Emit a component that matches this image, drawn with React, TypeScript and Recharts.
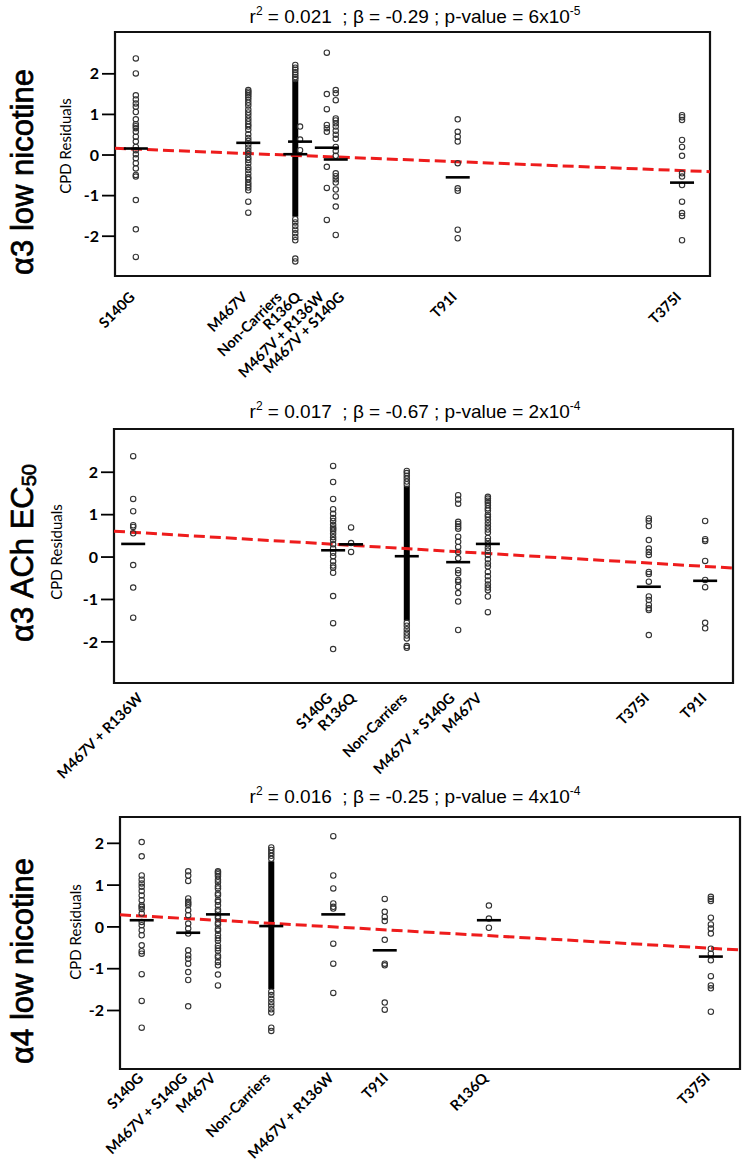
import React from 'react';
import { ScatterChart, Scatter, XAxis, YAxis, ReferenceLine, ReferenceArea } from 'recharts';

const W = 747;

// ---- panel 1: a3 low nicotine
const P1_GROUPS = ['S140G', 'M467V', 'Non-Carriers', 'R136Q', 'M467V + R136W', 'M467V + S140G', 'T91I', 'T375I'];
const P1_X = [3.5, 22.4, 30.3, 31.1, 35.6, 37.1, 57.6, 95.3];
const P1_LABEL_X = [3.5, 22.4, 28.2, 31.4, 35.3, 38.7, 57.6, 95.3];
const P1_MEANS = [0.16, 0.3, 0.02, 0.33, 0.18, -0.11, -0.55, -0.68];
const P1_VALUES = [
  [2.38, 2.01, 1.47, 1.37, 1.27, 1.19, 1.06, 0.88, 0.76, 0.71, 0.66, 0.57, 0.45, 0.33, 0.2, 0.12, 0.02, -0.08, -0.2, -0.33, -0.49, -0.53, -1.11, -1.83, -2.51],
  [1.6, 1.56, 1.52, 1.47, 1.42, 1.36, 1.29, 1.22, 1.12, 1.05, 0.98, 0.9, 0.83, 0.76, 0.7, 0.62, 0.51, 0.42, 0.35, 0.26, 0.18, 0.1, 0.03, -0.06, -0.12, -0.2, -0.3, -0.37, -0.46, -0.55, -0.6, -0.68, -0.74, -0.8, -0.87, -1.15, -1.42],
  [2.22, 2.15, 2.1, 2.04, 1.98, 1.92, 1.87, -1.58, -1.66, -1.75, -1.84, -1.93, -2.02, -2.1, -2.55, -2.62],
  [0.7, 0.38, 0.12],
  [2.52, 1.5, 1.13, 0.74, 0.66, 0.57, -0.29, -0.81, -1.6],
  [1.6, 1.52, 1.35, 0.9, 0.85, 0.78, 0.7, 0.6, 0.5, 0.4, 0.2, 0.1, -0.02, -0.45, -0.52, -0.6, -0.68, -0.85, -1.02, -1.27, -1.97],
  [0.88, 0.57, 0.45, 0.33, -0.2, -0.82, -0.88, -1.84, -2.05],
  [0.98, 0.93, 0.86, 0.37, 0.2, -0.02, -0.45, -0.53, -0.74, -1.15, -1.43, -1.5, -2.1],
];
const P1_DENSE = [-1.52, 1.84]; // Non-Carriers: too many points to tell apart
const P1_FIT = [0.165, -0.41];

// ---- panel 2: a3 ACh EC50
const P2_GROUPS = ['M467V + R136W', 'S140G', 'R136Q', 'Non-Carriers', 'M467V + S140G', 'M467V', 'T375I', 'T91I'];
const P2_X = [3.1, 35.4, 38.3, 47.3, 55.6, 60.4, 86.4, 95.5];
const P2_LABEL_X = [4.8, 35.4, 39.2, 47.5, 55.2, 59.6, 86.6, 95.9];
const P2_MEANS = [0.31, 0.16, 0.3, 0.02, -0.12, 0.31, -0.7, -0.56];
const P2_VALUES = [
  [2.38, 1.37, 1.08, 0.75, 0.71, 0.56, -0.19, -0.72, -1.43],
  [2.15, 1.77, 1.37, 1.13, 1.02, 0.92, 0.85, 0.76, 0.7, 0.66, 0.62, 0.55, 0.47, 0.4, 0.3, 0.2, 0.1, 0.02, -0.1, -0.2, -0.25, -0.37, -0.92, -1.56, -2.17],
  [0.7, 0.33, 0.12],
  [2.03, 1.98, 1.92, 1.85, 1.78, 1.72, -1.55, -1.62, -1.7, -1.78, -1.85, -1.92, -2.1, -2.14],
  [1.46, 1.36, 1.26, 0.83, 0.78, 0.72, 0.67, 0.48, 0.36, 0.24, 0.12, -0.03, -0.31, -0.38, -0.54, -0.58, -0.7, -0.85, -1.05, -1.72],
  [1.42, 1.38, 1.33, 1.28, 1.22, 1.15, 1.1, 1.0, 0.95, 0.88, 0.8, 0.72, 0.65, 0.58, 0.45, 0.38, 0.3, 0.22, 0.15, 0.05, -0.05, -0.15, -0.22, -0.35, -0.45, -0.55, -0.65, -0.72, -0.78, -0.93, -1.3],
  [0.91, 0.85, 0.73, 0.4, 0.2, 0.12, 0.05, -0.35, -0.4, -0.58, -0.93, -1.01, -1.13, -1.21, -1.25, -1.84],
  [0.85, 0.42, 0.38, -0.09, -0.54, -0.71, -1.55, -1.68],
];
const P2_DENSE = [-1.5, 1.68];
const P2_FIT = [0.61, -0.26];

// ---- panel 3: a4 low nicotine
const P3_GROUPS = ['S140G', 'M467V + S140G', 'M467V', 'Non-Carriers', 'M467V + R136W', 'T91I', 'R136Q', 'T375I'];
const P3_X = [3.5, 11.0, 15.8, 24.4, 34.4, 42.7, 59.5, 95.3];
const P3_LABEL_X = [3.9, 11.0, 15.6, 24.4, 34.6, 43.4, 59.5, 95.3];
const P3_MEANS = [0.16, -0.14, 0.3, 0.02, 0.3, -0.56, 0.16, -0.71];
const P3_VALUES = [
  [2.03, 1.69, 1.23, 1.13, 1.04, 0.96, 0.86, 0.75, 0.64, 0.52, 0.48, 0.43, 0.32, 0.12, 0.04, -0.08, -0.2, -0.44, -0.58, -0.64, -1.13, -1.77, -2.41],
  [1.33, 1.23, 1.1, 0.68, 0.6, 0.56, 0.52, 0.4, 0.28, 0.08, -0.04, -0.16, -0.56, -0.68, -0.76, -0.88, -1.08, -1.27, -1.9],
  [1.33, 1.3, 1.26, 1.21, 1.13, 1.07, 0.97, 0.92, 0.8, 0.76, 0.64, 0.6, 0.52, 0.41, 0.37, 0.25, 0.21, 0.1, 0.06, -0.05, -0.09, -0.2, -0.27, -0.33, -0.45, -0.51, -0.57, -0.69, -0.73, -0.84, -0.92, -1.14, -1.4],
  [1.9, 1.84, 1.77, 1.7, 1.63, -1.55, -1.63, -1.72, -1.8, -1.88, -1.97, -2.05, -2.41, -2.49],
  [2.17, 1.23, 0.92, 0.56, 0.48, 0.44, -0.4, -0.88, -1.58],
  [0.67, 0.36, 0.24, 0.14, -0.31, -0.88, -0.92, -1.81, -1.98],
  [0.51, 0.2, -0.02],
  [0.72, 0.67, 0.62, 0.22, 0.06, -0.04, -0.16, -0.52, -0.64, -0.8, -1.18, -1.4, -1.47, -2.03],
];
const P3_DENSE = [-1.49, 1.57];
const P3_FIT = [0.29, -0.55];

const Y_TICKS = [-2, -1, 0, 1, 2];

const Ring = (p: any) => (
  <circle cx={p.cx} cy={p.cy} r={2.7} fill="none" stroke="#333" strokeWidth={1.1} />
);
const Dash = (p: any) => (
  <line x1={p.cx - 12} x2={p.cx + 12} y1={p.cy} y2={p.cy} stroke="#000" strokeWidth={2.6} />
);

function Panel(props: any) {
  const { top, height, left, right, plotTop, plotBottom, yDomain, labelDy,
    groups, xs, labelXs, means, values, dense, fit } = props;
  const pts = values.flatMap((vals: number[], i: number) => vals.map((v) => ({ x: xs[i], y: v })));
  const meanPts = means.map((m: number, i: number) => ({ x: xs[i], y: m }));
  const ncX = xs[groups.indexOf('Non-Carriers')];
  const xAxisH = 30;
  const margin = { top: plotTop - top, right: W - right, bottom: top + height - plotBottom - xAxisH, left: 0 };

  const XTick = (t: any) => {
    const i = labelXs.indexOf(t.payload.value);
    const ty = t.y + labelDy;
    return (
      <text x={t.x} y={ty} transform={`rotate(-45 ${t.x} ${ty})`} textAnchor="end"
        fontFamily="Lato, 'Open Sans', sans-serif" fontWeight="bold" fontSize={14.5} fill="#000">
        {groups[i]}
      </text>
    );
  };

  return (
    <div style={{ position: 'absolute', left: 0, top, width: W, height }}>
      <ScatterChart width={W} height={height} margin={margin}>
        <XAxis type="number" dataKey="x" domain={[0, 100]} ticks={labelXs} interval={0}
          tickLine={false} axisLine={false} tickSize={0} tickMargin={0} height={xAxisH}
          tick={XTick} allowDataOverflow />
        <YAxis type="number" dataKey="y" domain={yDomain} ticks={Y_TICKS} interval={0} width={left}
          axisLine={false} tickSize={13} tickMargin={3} allowDataOverflow
          tickLine={{ stroke: '#000', strokeWidth: 1.8 }}
          tick={{ fontFamily: 'Lato, sans-serif', fontWeight: 'bold', fontSize: 16, fill: '#000' }} />
        <ReferenceArea x1={0} x2={100} y1={yDomain[0]} y2={yDomain[1]} fill="none"
          stroke="#111" strokeWidth={2.2} ifOverflow="visible" />
        <ReferenceLine segment={[{ x: ncX, y: dense[0] }, { x: ncX, y: dense[1] }]}
          stroke="#000" strokeWidth={6} />
        <Scatter data={pts} shape={Ring} isAnimationActive={false} />
        <Scatter data={meanPts} shape={Dash} isAnimationActive={false} />
        <ReferenceLine segment={[{ x: 0, y: fit[0] }, { x: 100, y: fit[1] }]}
          stroke="#ee1c1c" strokeWidth={3} strokeDasharray="11 5" />
      </ScatterChart>
    </div>
  );
}

const Title = ({ y, r2, beta, p, exp }: any) => (
  <text x={415} y={y} textAnchor="middle" fontFamily="'Liberation Sans', Arial, sans-serif"
    fontSize={19} fill="#000" style={{ whiteSpace: 'pre' }}>
    r<tspan fontSize={12} dy={-8}>2</tspan>
    <tspan dy={8}>{` = ${r2}  ; \u03b2 = ${beta} ; p-value = ${p}x10`}</tspan>
    <tspan fontSize={12} dy={-8}>{exp}</tspan>
  </text>
);

const bigFont = "'Liberation Sans', Arial, sans-serif";
const smallFont = "Lato, 'Open Sans', sans-serif";
const bigStyle = { fontFamily: bigFont, fontSize: 31, fill: '#000', stroke: '#000', strokeWidth: 0.7 };

export default function App() {
  return (
    <div style={{ position: 'absolute', left: 0, top: 0, width: W, height: 1170, background: '#fff' }}>
      <Panel top={0} height={400} left={115} right={710} plotTop={32} plotBottom={276}
        yDomain={[-2.98, 3.03]} labelDy={22}
        groups={P1_GROUPS} xs={P1_X} labelXs={P1_LABEL_X} means={P1_MEANS}
        values={P1_VALUES} dense={P1_DENSE} fit={P1_FIT} />
      <Panel top={400} height={400} left={114} right={733} plotTop={429} plotBottom={683}
        yDomain={[-2.97, 3.02]} labelDy={16}
        groups={P2_GROUPS} xs={P2_X} labelXs={P2_LABEL_X} means={P2_MEANS}
        values={P2_VALUES} dense={P2_DENSE} fit={P2_FIT} />
      <Panel top={770} height={400} left={120} right={740} plotTop={817} plotBottom={1069}
        yDomain={[-3.4, 2.63]} labelDy={10}
        groups={P3_GROUPS} xs={P3_X} labelXs={P3_LABEL_X} means={P3_MEANS}
        values={P3_VALUES} dense={P3_DENSE} fit={P3_FIT} />
      <svg width={W} height={1170} style={{ position: 'absolute', left: 0, top: 0, pointerEvents: 'none' }}>
        <Title y={23} r2="0.021" beta="-0.29" p="6" exp="-5" />
        <Title y={418} r2="0.017" beta="-0.67" p="2" exp="-4" />
        <Title y={803} r2="0.016" beta="-0.25" p="4" exp="-4" />

        <text transform="translate(22,172) rotate(-90)" textAnchor="middle" dominantBaseline="central"
          style={bigStyle}>{'\u03b13 low nicotine'}</text>
        <text transform="translate(22,553) rotate(-90)" textAnchor="middle" dominantBaseline="central"
          style={bigStyle}>
          {'\u03b13 ACh EC'}<tspan fontSize={20} dy={7}>50</tspan>
        </text>
        <text transform="translate(22,961) rotate(-90)" textAnchor="middle" dominantBaseline="central"
          style={bigStyle}>{'\u03b14 low nicotine'}</text>

        <text transform="translate(65,146) rotate(-90)" textAnchor="middle" dominantBaseline="central"
          fontFamily={smallFont} fontSize={15} fill="#000">CPD Residuals</text>
        <text transform="translate(56,552) rotate(-90)" textAnchor="middle" dominantBaseline="central"
          fontFamily={smallFont} fontSize={15} fill="#000">CPD Residuals</text>
        <text transform="translate(75,932) rotate(-90)" textAnchor="middle" dominantBaseline="central"
          fontFamily={smallFont} fontSize={15} fill="#000">CPD Residuals</text>
      </svg>
    </div>
  );
}
